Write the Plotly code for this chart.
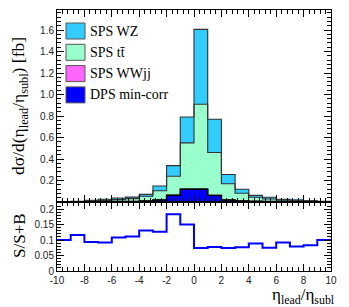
import plotly.graph_objects as go
import numpy as np

# bin edges and centres (eta_lead/eta_subl)
edges = list(range(-10, 11))
centers = [e + 0.5 for e in edges[:-1]]

# stacked components [fb]
dps = [0.0004, 0.0007, 0.0015, 0.0023, 0.0040, 0.0050, 0.0093, 0.0189, 0.0619, 0.1190,
       0.1190, 0.0600, 0.0190, 0.0091, 0.0055, 0.0033, 0.0023, 0.0015, 0.0010, 0.0006]
wwjj = [0.0001, 0.0001, 0.0002, 0.0003, 0.0004, 0.0005, 0.0008, 0.0012, 0.0020, 0.0030,
        0.0040, 0.0030, 0.0015, 0.0008, 0.0005, 0.0004, 0.0003, 0.0002, 0.0002, 0.0001]
ttbar = [0.0025, 0.0032, 0.0103, 0.0124, 0.0176, 0.0255, 0.0429, 0.0849, 0.1761, 0.4280,
         0.7860, 0.3970, 0.1495, 0.0711, 0.0380, 0.0243, 0.0144, 0.0103, 0.0068, 0.0033]
wz = [0.0010, 0.0020, 0.0040, 0.0100, 0.0150, 0.0140, 0.0180, 0.0440, 0.0980, 0.2400,
      0.6970, 0.3100, 0.0860, 0.0370, 0.0180, 0.0160, 0.0080, 0.0070, 0.0040, 0.0020]

COL_WZ = "#33ccff"
COL_TT = "#99ffcc"
COL_WW = "#ff66ff"
COL_DPS = "#0000ff"

lvl_dps = np.array(dps)
lvl_ww = lvl_dps + np.array(wwjj)
lvl_tt = lvl_ww + np.array(ttbar)
lvl_wz = lvl_tt + np.array(wz)
ratio = lvl_dps / lvl_wz

def steps(v):
    v = list(v)
    return v + [v[-1]]

fig = go.Figure()
for vals, col in [(dps, COL_DPS), (wwjj, COL_WW), (ttbar, COL_TT), (wz, COL_WZ)]:
    fig.add_trace(go.Bar(x=centers, y=vals, width=1, marker=dict(color=col, line=dict(width=0)),
                         showlegend=False, xaxis="x", yaxis="y"))
for lvl, lc, lw in [(lvl_wz, "#333333", 1.1), (lvl_tt, "#333333", 1.1), (lvl_ww, "#333333", 1.0),
                    (lvl_dps, "#000000", 1.6)]:
    fig.add_trace(go.Scatter(x=edges, y=steps(lvl), mode="lines", line=dict(color=lc, width=lw, shape="hv"),
                             showlegend=False, xaxis="x", yaxis="y", hoverinfo="skip"))
fig.add_trace(go.Scatter(x=edges, y=steps(ratio), mode="lines", line=dict(color=COL_DPS, width=2, shape="hv"),
                         showlegend=False, xaxis="x2", yaxis="y2", hoverinfo="skip"))

# the page body has an 8 px default margin, so the figure starts at (8, 8)
OFF = 8
W, H = 349 - OFF, 307 - OFF
L, R, T, B = 57 - OFF, 18, 10 - OFF, 36
pw, ph = W - L - R, H - T - B
split = (271 - 202) / ph

tickfont = dict(family="Liberation Sans, Arial", size=10, color="#222222")
axcommon = dict(showline=True, linecolor="black", linewidth=1, mirror="ticks", ticks="inside",
                tickcolor="black", showgrid=False, zeroline=False, tickfont=tickfont)

xt = list(range(-10, 11, 2))
fig.update_layout(
    width=W, height=H, margin=dict(l=L, r=R, t=T, b=B),
    paper_bgcolor="white", plot_bgcolor="white", barmode="stack", bargap=0,
    xaxis=dict(domain=[0, 1], range=[-10, 10], anchor="y", matches="x2", showticklabels=False,
               tickvals=xt, ticklen=7, minor=dict(dtick=0.4, tick0=0, ticklen=4, ticks="inside", tickcolor="black"),
               **axcommon),
    yaxis=dict(domain=[split, 1], range=[0, 1.786], anchor="x",
               tickvals=[0.2, 0.4, 0.6, 0.8, 1.0, 1.2, 1.4, 1.6], tickformat=".1f", ticklen=7,
               minor=dict(dtick=0.04, tick0=0, ticklen=4, ticks="inside", tickcolor="black"),
               **axcommon),
    xaxis2=dict(domain=[0, 1], range=[-10, 10], anchor="y2",
                tickvals=xt, ticktext=[str(v) for v in xt], ticklen=7,
                minor=dict(dtick=0.4, tick0=0, ticklen=4, ticks="inside", tickcolor="black"),
                **axcommon),
    yaxis2=dict(domain=[0, split], range=[0, 0.223], anchor="x2",
                tickvals=[0, 0.05, 0.1, 0.15, 0.2], ticktext=["0", "0.05", "0.1", "0.15", "0.2"], ticklen=7,
                minor=dict(dtick=0.01, tick0=0, ticklen=4, ticks="inside", tickcolor="black"),
                **axcommon),
)

# page-pixel -> paper coordinates
def px_x(px):
    return (px - OFF - L) / pw

def px_y(py):
    return (OFF + T + ph - py) / ph

serif = "Liberation Serif, Times New Roman, serif"
annos = [
    dict(text="dσ/d(η<sub>lead</sub>/η<sub>subl</sub>) [fb]", x=px_x(19), y=px_y(106), textangle=-90,
         font=dict(family=serif, size=17.5, color="black"), yanchor="middle", borderpad=0),
    dict(text="S/S+B", x=px_x(19), y=px_y(236), textangle=-90,
         font=dict(family=serif, size=17, color="black"), yanchor="middle", borderpad=0),
    dict(text="η<sub>lead</sub>/η<sub>subl</sub>", x=px_x(336), y=px_y(296), xanchor="right",
         yanchor="middle", font=dict(family=serif, size=17, color="black"), borderpad=0),
]
leg = [("SPS WZ", COL_WZ), ("SPS tt̄", COL_TT), ("SPS WWjj", COL_WW), ("DPS min-corr", COL_DPS)]
shapes = []
for i, (lab, col) in enumerate(leg):
    yc = 31 + i * 21.3
    shapes.append(dict(type="rect", xref="paper", yref="paper", x0=px_x(66), x1=px_x(85),
                       y0=px_y(yc + 8), y1=px_y(yc - 8), fillcolor=col, line=dict(color="#555555", width=1)))
    annos.append(dict(text=lab, x=px_x(88), y=px_y(yc), xanchor="left", yanchor="middle",
                      font=dict(family=serif, size=14, color="black")))
for a in annos:
    a.setdefault("xanchor", "center")
    a.update(xref="paper", yref="paper", showarrow=False)
fig.update_layout(annotations=annos, shapes=shapes)

fig.write_html("out.html")
